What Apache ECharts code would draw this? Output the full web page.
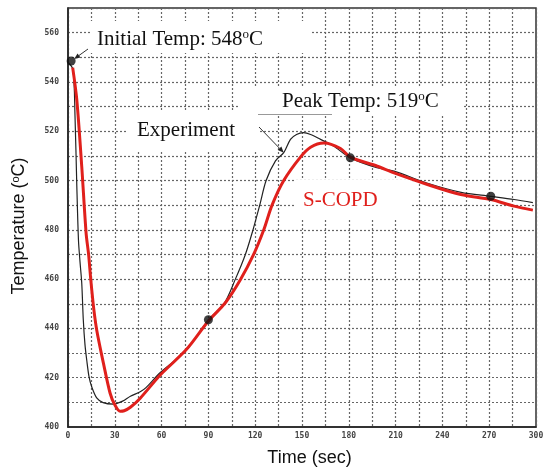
<!DOCTYPE html>
<html><head><meta charset="utf-8">
<script src="https://cdn.jsdelivr.net/npm/echarts@6/dist/echarts.min.js"></script>
<style>html,body{margin:0;padding:0;background:#fff}#c{width:545px;height:473px}</style>
</head><body><div id="c"></div>
<script>
// Experiment (black line)
const expTime = [0,3.2,4.5,5.6,6.7,7.7,8.8,9.8,10.9,12,13.5,15.2,18.4,22.5,29.1,35,40,46.3,50,59,76,90,100,107.3,113.7,118.6,122.9,127,133,138.3,142.6,146.5,151,155.5,161.9,170.2,181,198,209,230,252,271,286,298];
const expTemp = [548,545,526,499,476,467,458.5,443.5,433.3,427.2,420.3,416.3,411.8,409.9,409.3,410.5,412.5,414.3,416,422,431.3,443.5,450,460,470,480,490,500,508,511.3,516.7,518.7,519.4,518.7,516.7,514,509.2,505.2,503.8,499,495.2,493.6,492.3,491];
// S-COPD (red line)
const copdTime = [3,5.6,8.8,11.6,13.2,14.6,16.5,18.4,22.7,27,30,33.4,36,40,46.3,59,76,90,101,110.3,119,125.5,130.8,138.3,149,155.5,164,174.7,181,198.3,209,230.4,251.8,271,286,298];
const copdTemp = [545.8,533,505.8,478.7,470,459.8,448,439.4,425.9,413.7,409,406.4,406.6,408,411.7,421,431.5,443,450.5,459.5,470,480,490,500,509.5,513.5,515.2,513,509.5,505.8,503.1,498.4,494.3,492.3,489.6,488];
// Black dots
const dotTime = [2,90,181,271];
const dotTemp = [548.5,443.5,509.2,493.6];
// Axes
const xMin = 0, xMax = 300, xGridStep = 15, xLabelStep = 30;
const yMin = 400, yMax = 570, yGridStep = 10, yLabelStep = 20;
// Annotation texts
const txtInitial = 'Initial Temp: 548{s|o}C';
const txtPeak = 'Peak Temp: 519{s|o}C';
const txtExp = 'Experiment';
const txtCopd = 'S-COPD';
const xName = 'Time (sec)';
const yName = 'Temperature ({s|o}C)';

const zip = (a, b) => a.map((v, i) => [v, b[i]]);
const chart = echarts.init(document.getElementById('c'), null, {renderer: 'canvas'});
const tickFont = {fontSize: 8, fontWeight: 'bold', color: '#444', fontFamily: 'DejaVu Sans Mono'};
const splitStyle = {show: true, lineStyle: {color: '#666', width: 1.2, type: [2, 2]}};

chart.setOption({
  animation: false,
  backgroundColor: '#fff',
  grid: {left: 68, right: 9, top: 8, bottom: 46, containLabel: false, outerBoundsMode: 'none',
         show: true, borderColor: '#333', borderWidth: 1.5, backgroundColor: 'transparent'},
  xAxis: {
    type: 'value', min: xMin, max: xMax, interval: xGridStep,
    name: xName, nameLocation: 'middle', nameGap: 22,
    nameTextStyle: {fontSize: 18, color: '#111', fontFamily: 'Liberation Sans', padding: [0, 0, 0, 15]},
    axisLine: {lineStyle: {color: '#222', width: 1.5}},
    axisTick: {show: false},
    axisLabel: Object.assign({margin: 5, formatter: v => (v % xLabelStep === 0 ? String(v) : '')}, tickFont),
    splitLine: splitStyle
  },
  yAxis: {
    type: 'value', min: yMin, max: yMax, interval: yGridStep,
    name: yName, nameLocation: 'middle', nameGap: 40,
    nameTextStyle: {fontSize: 18, color: '#111', fontFamily: 'Liberation Sans', padding: [0, 17, 0, 0],
                    rich: {s: {fontSize: 11, verticalAlign: 'top', color: '#111', fontFamily: 'Liberation Sans'}}},
    axisLine: {show: true, lineStyle: {color: '#222', width: 1.5}},
    axisTick: {show: false},
    axisLabel: Object.assign({margin: 9, formatter: v => (v % yLabelStep === 0 ? String(v) : '')}, tickFont),
    splitLine: splitStyle
  },
  series: [
    {name: 'Experiment', type: 'line', data: zip(expTime, expTemp), showSymbol: false, smooth: 0.3,
     lineStyle: {color: '#222', width: 1.2}, z: 3},
    {name: 'S-COPD', type: 'line', data: zip(copdTime, copdTemp), showSymbol: false, smooth: 0.3,
     lineStyle: {color: '#e0201c', width: 3}, z: 4},
    {name: 'Points', type: 'scatter', data: zip(dotTime, dotTemp), symbolSize: 9, clip: false,
     itemStyle: {color: '#111'}, z: 5}
  ]
});

const toPx = (x, y) => chart.convertToPixel({gridIndex: 0}, [x, y]);
function arrow(x1, y1, x2, y2) {
  const dx = x2 - x1, dy = y2 - y1, L = Math.hypot(dx, dy), ux = dx / L, uy = dy / L;
  const hl = 6, hw = 2.5;
  const bx = x2 - ux * hl, by = y2 - uy * hl;
  return [
    {type: 'line', z: 6, shape: {x1, y1, x2: bx, y2: by}, style: {stroke: '#333', lineWidth: 1}},
    {type: 'polygon', z: 6, shape: {points: [[x2, y2], [bx - uy * hw, by + ux * hw], [bx + uy * hw, by - ux * hw]]},
     style: {fill: '#222'}}
  ];
}
const serif = 'Liberation Serif';
const rich = {s: {fontSize: 13, verticalAlign: 'top', fontFamily: serif, fill: '#111'}};
const dot0 = toPx(dotTime[0], dotTemp[0]);
const kink = toPx(expTime[29], expTemp[29]);
const g = [
  {type: 'rect', z: 1, shape: {x: 90, y: 21, width: 222, height: 32}, style: {fill: '#fff'}},
  {type: 'rect', z: 1, shape: {x: 128, y: 112, width: 130, height: 38}, style: {fill: '#fff'}},
  {type: 'rect', z: 1, shape: {x: 240, y: 87, width: 222, height: 27}, style: {fill: '#fff'}},
  {type: 'rect', z: 1, shape: {x: 295, y: 180, width: 115, height: 38}, style: {fill: '#fff'}},
  {type: 'line', z: 6, shape: {x1: 258, y1: 114.5, x2: 332, y2: 114.5}, style: {stroke: '#999', lineWidth: 1}},
  {type: 'text', z: 7, style: {text: txtInitial, x: 97, y: 39, verticalAlign: 'middle', font: '21px ' + serif, fill: '#111', rich}},
  {type: 'text', z: 7, style: {text: txtExp, x: 137, y: 130, verticalAlign: 'middle', font: '21px ' + serif, fill: '#111'}},
  {type: 'text', z: 7, style: {text: txtPeak, x: 282, y: 101, verticalAlign: 'middle', font: '21px ' + serif, fill: '#111', rich}},
  {type: 'text', z: 7, style: {text: txtCopd, x: 303, y: 200, verticalAlign: 'middle', font: '21px ' + serif, fill: '#e0201c'}}
].concat(arrow(88, 49, dot0[0] + 3, dot0[1] - 2), arrow(259, 127, kink[0], kink[1]));
chart.setOption({graphic: {elements: g}});
</script></body></html>
